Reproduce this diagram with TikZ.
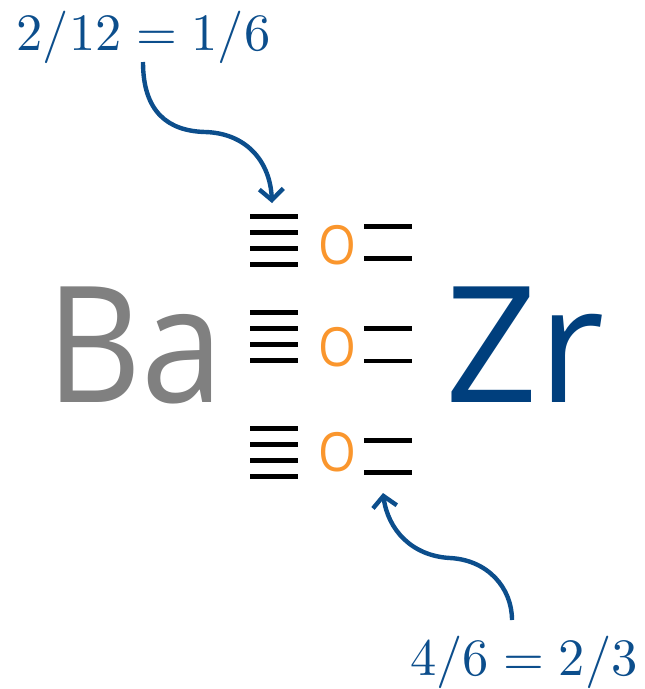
\documentclass[tikz,border=0pt]{standalone}
\usepackage{fontspec}
\setmainfont{Open Sans}
\usetikzlibrary{arrows.meta}
\definecolor{zrblue}{RGB}{0,63,125}
\definecolor{arrblue}{RGB}{12,78,140}
\definecolor{oorange}{RGB}{250,150,45}
\definecolor{bagray}{RGB}{128,128,128}
\tikzset{
  bar/.style={line width=4.6pt},
  atom/.style={font=\fontsize{162}{170}\selectfont, inner sep=0pt, anchor=base},
  oxy/.style={font=\fontsize{54}{60}\selectfont, text=oorange, inner sep=0pt, xscale=0.9},
  frac/.style={text=arrblue, inner sep=0pt, anchor=base},
  curvearrow/.style={draw=arrblue, line width=4.4pt, -{Straight Barb[length=11pt,width=24pt]}}
}
\begin{document}
\begin{tikzpicture}[x=1pt,y=-1pt]
\useasboundingbox (0,0) rectangle (645,689);
% atoms
\node[atom, text=bagray] (ba) at (135,402) {\scalebox{0.91}[1]{Ba}};
\node[atom, text=zrblue] (zr) at (525,402) {Zr};
% oxygens
\node[oxy] (o1) at (337,245) {O};
\node[oxy] (o2) at (337,347) {O};
\node[oxy] (o3) at (337,452) {O};
% left bars
\foreach \y in {216.7,232.7,248.7,264.7,312.7,328.7,344.7,360.7,428.7,444.7,460.7,476.7}
  \draw[bar] (250,\y) -- (298,\y);
% right bars
\foreach \y in {226.3,258.7,328.7,361,440.7,472.7}
  \draw[bar] (364,\y) -- (412,\y);
% labels
\node[frac] (l1) at (143.5,50) {\scalebox{5.25}{$2/12=1/6$}};
\node[frac] (l2) at (524,675) {\scalebox{5.25}{$4/6=2/3$}};
\coordinate (s1) at (143,62);
\coordinate (t1) at (272,203);
\coordinate (s2) at (512,620);
\coordinate (t2) at (383,493);
\draw[curvearrow] (s1) .. controls (143,112) and (168,131) .. (205,132)
  .. controls (245,133) and (270,160) .. (t1);
\draw[curvearrow] (s2) .. controls (512,588) and (488,560) .. (450,558)
  .. controls (412,556) and (388,530) .. (t2);
\end{tikzpicture}
\end{document}
